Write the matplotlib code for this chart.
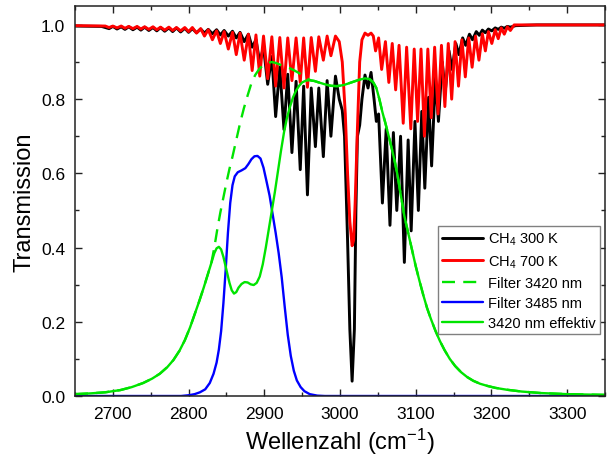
import numpy as np
import matplotlib
matplotlib.use('Agg')
import matplotlib.pyplot as plt
from matplotlib.ticker import MultipleLocator

plt.rcParams['font.family'] = ['Liberation Sans', 'DejaVu Sans']
plt.rcParams['mathtext.fontset'] = 'custom'
plt.rcParams['mathtext.rm'] = 'Liberation Sans'
plt.rcParams['mathtext.it'] = 'Liberation Sans:italic'
plt.rcParams['mathtext.bf'] = 'Liberation Sans:bold'

# CH4 transmission, maxima and minima of the line structure (cm^-1, T)
ch4_300 = [
    (2650, 0.997), (2685, 0.996),
    (2695, 0.990), (2700, 0.996), (2705.5, 0.989), (2711, 0.995), (2716, 0.988), (2721, 0.995),
    (2726.5, 0.987), (2732, 0.994), (2737, 0.986), (2742, 0.994), (2747.5, 0.985), (2753, 0.993),
    (2758, 0.984), (2763, 0.993), (2768.5, 0.983), (2774, 0.992), (2779, 0.982), (2784, 0.992),
    (2789.5, 0.981), (2795, 0.991), (2800, 0.980), (2805, 0.990), (2810.5, 0.979), (2816, 0.989),
    (2821, 0.978), (2826, 0.988), (2831.5, 0.976), (2837, 0.987), (2842, 0.973), (2847, 0.985),
    (2852.5, 0.970), (2858, 0.983), (2863, 0.965), (2868, 0.980), (2873.5, 0.955), (2879, 0.975),
    (2884, 0.940), (2889, 0.960), (2894, 0.900), (2899, 0.940), (2904.5, 0.840), (2910, 0.915),
    (2915, 0.753), (2920.5, 0.886), (2926, 0.718), (2931, 0.867), (2936.5, 0.656), (2942, 0.848),
    (2947.5, 0.610), (2952, 0.835), (2957, 0.542), (2962, 0.830), (2967.5, 0.672), (2972, 0.830),
    (2978, 0.645), (2983, 0.850), (2988, 0.700), (2994, 0.862),
    (2999, 0.800), (3003, 0.770), (3006, 0.700), (3010, 0.420), (3013, 0.180), (3016, 0.040),
    (3019, 0.180), (3021, 0.500), (3023, 0.700), (3026, 0.730), (3029, 0.800), (3033, 0.865),
    (3037, 0.830), (3041, 0.872), (3045, 0.800), (3048, 0.740), (3051, 0.760),
    (3056, 0.520), (3061, 0.720), (3066, 0.460), (3070.5, 0.710), (3075, 0.500), (3080, 0.700),
    (3085, 0.360), (3090, 0.690), (3094, 0.445), (3099, 0.740), (3103.5, 0.500), (3108, 0.767),
    (3112, 0.560), (3117, 0.805), (3121, 0.620), (3126, 0.860), (3130, 0.740), (3135, 0.900),
    (3139, 0.820), (3144, 0.930), (3148, 0.880), (3153, 0.950), (3157, 0.920), (3162, 0.965),
    (3166, 0.945), (3171, 0.975), (3175, 0.960), (3180, 0.982), (3184, 0.972), (3188, 0.986),
    (3192, 0.979), (3196, 0.989), (3200.5, 0.984), (3205, 0.992), (3209, 0.988), (3213, 0.994),
    (3217, 0.991), (3221, 0.996), (3225, 0.994), (3232, 0.998), (3260, 1.0), (3350, 1.0),
]

ch4_700 = [
    (2650, 0.998), (2690, 0.997),
    (2695, 0.993), (2700, 0.997), (2705.5, 0.992), (2711, 0.997), (2716, 0.991), (2721, 0.996),
    (2726.5, 0.990), (2732, 0.996), (2737, 0.989), (2742, 0.995), (2747.5, 0.988), (2753, 0.995),
    (2758, 0.987), (2763, 0.994), (2768.5, 0.986), (2774, 0.994), (2779, 0.985), (2784, 0.993),
    (2789.5, 0.984), (2795, 0.993), (2800, 0.982), (2805, 0.993), (2810.5, 0.978), (2816, 0.990),
    (2821, 0.970), (2826, 0.987), (2831.5, 0.960), (2837, 0.984), (2842, 0.950), (2847, 0.982),
    (2852.5, 0.935), (2858, 0.980), (2863, 0.920), (2868, 0.978), (2873.5, 0.905), (2879, 0.975),
    (2884, 0.877), (2889, 0.973), (2894, 0.862), (2899, 0.970), (2904.5, 0.855), (2910, 0.968),
    (2915, 0.835), (2920.5, 0.966), (2926, 0.830), (2931, 0.965), (2936.5, 0.850), (2942, 0.965),
    (2947.5, 0.845), (2952, 0.965), (2957, 0.832), (2962, 0.966), (2967.5, 0.875), (2972, 0.968),
    (2978, 0.905), (2983, 0.970), (2988, 0.917), (2994, 0.970),
    (2999, 0.955), (3003, 0.900), (3007, 0.760), (3010, 0.600), (3013, 0.470), (3016, 0.405),
    (3018, 0.420), (3020, 0.520), (3023, 0.720), (3026, 0.900), (3029, 0.960), (3033, 0.978),
    (3037, 0.972), (3041, 0.978), (3044, 0.970),
    (3047, 0.930), (3051, 0.965), (3055, 0.880), (3060, 0.955), (3064.5, 0.845), (3069, 0.950),
    (3073.5, 0.825), (3078, 0.945), (3083.5, 0.735), (3088, 0.940), (3093.5, 0.720), (3098, 0.935),
    (3102.5, 0.740), (3107, 0.935), (3111.5, 0.700), (3116, 0.935), (3120.5, 0.750), (3125, 0.940),
    (3129.5, 0.760), (3134, 0.945), (3138.5, 0.780), (3143, 0.950), (3147.5, 0.800), (3152, 0.955),
    (3156.5, 0.835), (3161, 0.960), (3165.5, 0.860), (3170, 0.965), (3174.5, 0.886), (3179, 0.970),
    (3183.5, 0.905), (3188, 0.976), (3192, 0.930), (3196, 0.982), (3200.5, 0.950), (3205, 0.987),
    (3209, 0.963), (3213, 0.992), (3217, 0.975), (3221, 0.995), (3225, 0.985), (3230, 1.0),
    (3350, 1.0),
]

# bandpass filters
filter_3420 = [
    (2650, 0.005), (2670, 0.007), (2690, 0.010), (2710, 0.016), (2725, 0.024), (2740, 0.035),
    (2752, 0.047), (2762, 0.060), (2772, 0.078), (2780, 0.097), (2788, 0.122), (2795, 0.150),
    (2802, 0.185), (2808, 0.220), (2814, 0.255), (2820, 0.292), (2825, 0.325), (2830, 0.358),
    (2834, 0.400), (2838, 0.450), (2842, 0.495), (2846, 0.535), (2850, 0.575), (2854, 0.612),
    (2858, 0.645), (2863, 0.690), (2868, 0.735), (2873, 0.775), (2878, 0.810), (2883, 0.843),
    (2888, 0.865), (2893, 0.880), (2898, 0.891), (2904, 0.898), (2910, 0.900), (2916, 0.897),
    (2922, 0.892), (2928, 0.888), (2934, 0.883), (2940, 0.877), (2946, 0.870), (2952, 0.862),
    (2957, 0.855), (2962, 0.850), (2966, 0.849), (2972, 0.845), (2980, 0.840), (2988, 0.836),
    (2996, 0.835), (3005, 0.838), (3015, 0.845), (3025, 0.852), (3033, 0.856), (3039, 0.854),
    (3044, 0.845), (3048, 0.830), (3052, 0.800), (3056, 0.765), (3060, 0.735), (3064, 0.703),
    (3068, 0.670), (3072, 0.635), (3076, 0.595), (3080, 0.545), (3085, 0.485), (3090, 0.440),
    (3095, 0.395), (3100, 0.350), (3105, 0.310), (3110, 0.272), (3115, 0.237), (3120, 0.208),
    (3126, 0.176), (3132, 0.148), (3138, 0.124), (3145, 0.100), (3152, 0.081), (3160, 0.064),
    (3168, 0.051), (3176, 0.041), (3185, 0.033), (3195, 0.027), (3205, 0.022), (3220, 0.017),
    (3240, 0.012), (3265, 0.008), (3300, 0.005), (3350, 0.003),
]

filter_3485 = [
    (2650, 0.0), (2790, 0.0), (2800, 0.002), (2808, 0.005), (2815, 0.010), (2822, 0.018),
    (2828, 0.035), (2833, 0.060), (2837, 0.090), (2840, 0.125), (2843, 0.175), (2846, 0.250),
    (2849, 0.340), (2852, 0.440), (2855, 0.520), (2858, 0.568), (2861, 0.592), (2865, 0.603),
    (2870, 0.608), (2875, 0.614), (2879, 0.625), (2883, 0.638), (2887, 0.646), (2891, 0.647),
    (2895, 0.640), (2899, 0.615), (2903, 0.578), (2907, 0.540), (2911, 0.490), (2915, 0.440),
    (2919, 0.385), (2923, 0.320), (2927, 0.240), (2931, 0.165), (2935, 0.108), (2939, 0.068),
    (2943, 0.042), (2948, 0.024), (2953, 0.013), (2960, 0.005), (2970, 0.001), (2980, 0.0),
    (3350, 0.0),
]

effective_3420 = [
    (2650, 0.005), (2670, 0.007), (2690, 0.010), (2710, 0.016), (2725, 0.024), (2740, 0.035),
    (2752, 0.047), (2762, 0.060), (2772, 0.078), (2780, 0.097), (2788, 0.122), (2795, 0.150),
    (2802, 0.185), (2808, 0.220), (2814, 0.255), (2820, 0.292), (2825, 0.325), (2830, 0.358),
    (2834, 0.385), (2837, 0.398), (2840, 0.402), (2843, 0.395), (2846, 0.375), (2850, 0.340),
    (2854, 0.305), (2857, 0.285), (2860, 0.276), (2863, 0.280), (2866, 0.292), (2870, 0.302),
    (2874, 0.307), (2878, 0.306), (2882, 0.301), (2886, 0.299), (2890, 0.305), (2894, 0.322),
    (2898, 0.355), (2902, 0.400), (2906, 0.450), (2910, 0.500), (2914, 0.550), (2918, 0.605),
    (2922, 0.660), (2926, 0.710), (2930, 0.750), (2934, 0.780), (2938, 0.805), (2942, 0.823),
    (2946, 0.836), (2950, 0.845), (2955, 0.850), (2960, 0.851), (2966, 0.849), (2972, 0.845),
    (2980, 0.840), (2988, 0.836), (2996, 0.835), (3005, 0.838), (3015, 0.845), (3025, 0.852),
    (3033, 0.856), (3039, 0.854), (3044, 0.845), (3048, 0.830), (3052, 0.800), (3056, 0.765),
    (3060, 0.735), (3064, 0.703), (3068, 0.670), (3072, 0.635), (3076, 0.595), (3080, 0.545),
    (3085, 0.485), (3090, 0.440), (3095, 0.395), (3100, 0.350), (3105, 0.310), (3110, 0.272),
    (3115, 0.237), (3120, 0.208), (3126, 0.176), (3132, 0.148), (3138, 0.124), (3145, 0.100),
    (3152, 0.081), (3160, 0.064), (3168, 0.051), (3176, 0.041), (3185, 0.033), (3195, 0.027),
    (3205, 0.022), (3220, 0.017), (3240, 0.012), (3265, 0.008), (3300, 0.005), (3350, 0.003),
]

green = '#00e400'

fig = plt.figure(figsize=(6.07, 4.64), dpi=100)
ax = fig.add_axes([75 / 607, 1 - 397 / 464, 530 / 607, 390 / 464])

def xy(pts):
    a = np.array(pts)
    return a[:, 0], a[:, 1]

style = dict(solid_joinstyle='round', solid_capstyle='round')
ax.plot(*xy(ch4_300), color='black', lw=2.1, label=r'CH$_\mathregular{4}$ 300 K', **style)
ax.plot(*xy(ch4_700), color='#ff0000', lw=2.1, label=r'CH$_\mathregular{4}$ 700 K', **style)
ax.plot(*xy(filter_3420), color=green, lw=1.7, dashes=(5.5, 3.5), label='Filter 3420 nm')
ax.plot(*xy(filter_3485), color='#0000ff', lw=1.7, label='Filter 3485 nm', **style)
ax.plot(*xy(effective_3420), color=green, lw=1.7, label='3420 nm effektiv', **style)

ax.set_xlim(2650, 3350)
ax.set_ylim(0, 1.051)
ax.xaxis.set_major_locator(MultipleLocator(100))
ax.xaxis.set_minor_locator(MultipleLocator(50))
ax.yaxis.set_major_locator(MultipleLocator(0.2))
ax.yaxis.set_minor_locator(MultipleLocator(0.1))
ax.yaxis.set_major_formatter(plt.FormatStrFormatter('%.1f'))
ax.tick_params(which='both', direction='in', top=True, right=True, width=1, colors='#222222',
               labelcolor='black', labelsize=12.5)
ax.tick_params(which='major', length=5, pad=7)
ax.tick_params(which='minor', length=3)
for s in ax.spines.values():
    s.set_linewidth(1.1)
    s.set_color('#222222')

ax.set_xlabel(r'Wellenzahl (cm$^\mathregular{-1}$)', fontsize=17, labelpad=4)
ax.set_ylabel('Transmission', fontsize=17, labelpad=4)

leg = ax.legend(loc='upper right', bbox_to_anchor=(0.99, 0.435), fontsize=10.5, handlelength=2.8,
                handletextpad=0.3, borderpad=0.3, labelspacing=0.42, fancybox=False,
                framealpha=1, edgecolor='#808080', borderaxespad=0)
leg.get_frame().set_linewidth(1.0)

fig.savefig('out.png', dpi=100)
